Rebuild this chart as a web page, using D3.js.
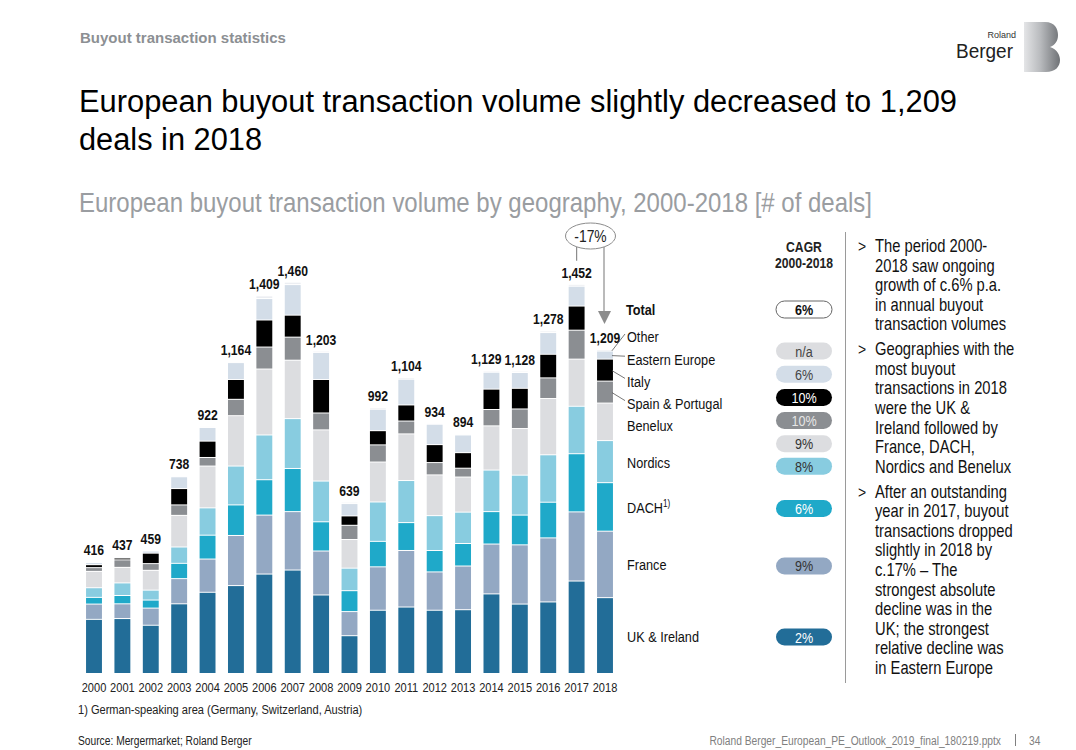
<!DOCTYPE html>
<html lang="en">
<head>
  <meta charset="UTF-8">
  <title>European buyout transaction volume</title>
  <script src="https://d3js.org/d3.v7.min.js"></script>
  <style>
    body { margin: 0; background: #fff; }
    svg text { font-family: "Liberation Sans", Arial, sans-serif; }
  </style>
</head>
<body>
  <div id="chart"></div>
  <script>
    // deals per year and region
    const years = [2000, 2001, 2002, 2003, 2004, 2005, 2006, 2007, 2008, 2009, 2010, 2011, 2012, 2013, 2014, 2015, 2016, 2017, 2018]
    const totals = [416, 437, 459, 738, 922, 1164, 1409, 1460, 1203, 639, 992, 1104, 934, 894, 1129, 1128, 1278, 1452, 1209]

    const ukIreland = [202, 205, 180, 260, 303, 328, 371, 386, 293, 141, 236, 248, 236, 238, 297, 259, 267, 345, 283]
    const france = [57, 55, 64, 94, 124, 187, 220, 218, 164, 90, 162, 211, 143, 163, 186, 221, 239, 258, 248]
    const dach = [25, 31, 30, 57, 89, 114, 132, 161, 109, 78, 95, 104, 80, 84, 121, 111, 133, 217, 181]
    const nordics = [36, 47, 37, 61, 102, 145, 167, 186, 152, 84, 147, 157, 130, 117, 155, 149, 177, 177, 157]
    const benelux = [61, 58, 74, 118, 156, 188, 246, 218, 191, 107, 149, 174, 152, 131, 165, 174, 210, 176, 140]
    const spainPortugal = [14, 28, 25, 39, 32, 61, 82, 86, 63, 53, 64, 48, 46, 33, 61, 73, 77, 108, 82]
    const italy = [11, 7, 39, 61, 61, 74, 101, 82, 125, 35, 53, 60, 67, 58, 76, 77, 88, 90, 82]
    const easternEurope = [8, 4, 8, 44, 51, 63, 80, 114, 101, 46, 80, 96, 76, 66, 63, 59, 81, 74, 30]
    const other = [2, 2, 2, 4, 4, 4, 10, 9, 5, 5, 6, 6, 4, 4, 5, 5, 6, 7, 6]

    const regions = ['UK & Ireland', 'France', 'DACH', 'Nordics', 'Benelux', 'Spain & Portugal', 'Italy', 'Eastern Europe', 'Other']
    const cagr = ['2%', '9%', '6%', '8%', '9%', '10%', '10%', '6%', 'n/a']
    const totalCagr = '6%'

    const bullets = [
      ['The period 2000-', '2018 saw ongoing', 'growth of c.6% p.a.', 'in annual buyout', 'transaction volumes'],
      ['Geographies with the', 'most buyout', 'transactions in 2018', 'were the UK &', 'Ireland followed by', 'France, DACH,', 'Nordics and Benelux'],
      ['After an outstanding', 'year in 2017, buyout', 'transactions dropped', 'slightly in 2018 by', 'c.17% \u2013 The', 'strongest absolute', 'decline was in the', 'UK; the strongest', 'relative decline was', 'in Eastern Europe']
    ]

    const series = [ukIreland, france, dach, nordics, benelux, spainPortugal, italy, easternEurope, other]
    const colors = ['#226d98', '#93a8c3', '#1fa9c9', '#88cce0', '#dcdde0', '#8b8e92', '#000000', '#d3dde8', '#eceef2']
    const pillText = ['#ffffff', '#333333', '#ffffff', '#333333', '#333333', '#e6e6e6', '#ffffff', '#444444', '#444444']

    const table = years.map((yr, i) => {
      const row = {year: yr}
      regions.forEach((r, k) => { row[r] = series[k][i] })
      return row
    })

    // no condensed face installed: squeeze text horizontally round its anchor
    function narrow (sel, s) {
      sel.attr('transform', function () {
        const x0 = +this.getAttribute('x') || 0
        return `translate(${x0 * (1 - s)},0) scale(${s},1)`
      })
      return sel
    }

    const svg = d3.select('#chart').append('svg')
      .attr('width', 1076)
      .attr('height', 750)

    // header
    svg.append('text').attr('x', 80).attr('y', 43)
      .style('font-size', '15px').style('font-weight', 'bold').attr('fill', '#8c8f93')
      .text('Buyout transaction statistics')
    svg.append('text').attr('x', 79).attr('y', 112)
      .attr('textLength', 878).attr('lengthAdjust', 'spacingAndGlyphs')
      .style('font-size', '31px').attr('fill', '#000')
      .text('European buyout transaction volume slightly decreased to 1,209')
    svg.append('text').attr('x', 79).attr('y', 150)
      .attr('textLength', 183).attr('lengthAdjust', 'spacingAndGlyphs')
      .style('font-size', '31px').attr('fill', '#000')
      .text('deals in 2018')
    svg.append('text').attr('x', 79).attr('y', 212)
      .attr('textLength', 793).attr('lengthAdjust', 'spacingAndGlyphs')
      .style('font-size', '27.5px').attr('fill', '#9a9da1')
      .text('European buyout transaction volume by geography, 2000-2018 [# of deals]')

    // logo
    const grad = svg.append('defs').append('linearGradient').attr('id', 'rb')
      .attr('x1', '0%').attr('x2', '100%')
    grad.append('stop').attr('offset', '0%').attr('stop-color', '#e4e5e7')
    grad.append('stop').attr('offset', '45%').attr('stop-color', '#b9bbbe')
    grad.append('stop').attr('offset', '100%').attr('stop-color', '#6f7276')
    svg.append('path')
      .attr('d', 'M1024,22 H1045 C1055,22 1058,29 1058,35 C1058,41 1055,45 1050,47 C1057,49 1060,55 1060,60 C1060,67 1055,72 1046,72 H1024 Z')
      .attr('fill', 'url(#rb)')
    svg.append('text').attr('x', 1016).attr('y', 37.5).attr('text-anchor', 'end')
      .style('font-size', '9px').attr('fill', '#333').text('Roland')
    svg.append('text').attr('x', 956).attr('y', 58)
      .attr('textLength', 57).attr('lengthAdjust', 'spacingAndGlyphs')
      .style('font-size', '20px').attr('fill', '#222').text('Berger')

    // scales
    const x = d3.scaleBand()
      .domain(years)
      .range([79.8, 619.2])
      .paddingInner(0.44)
      .paddingOuter(0.22)

    const y = d3.scaleLinear()
      .domain([0, 1460])
      .range([674, 282.7])

    const stacked = d3.stack().keys(regions)(table)

    svg.append('g').selectAll('g')
      .data(stacked)
      .enter()
      .append('g')
        .attr('fill', (d, k) => colors[k])
      .selectAll('rect')
      .data(d => d)
      .enter()
      .append('rect')
        .attr('x', d => x(d.data.year))
        .attr('y', d => y(d[1]))
        .attr('width', x.bandwidth())
        .attr('height', d => Math.max(0, y(d[0]) - y(d[1]) - 1))

    // totals on top
    const totalScale = 0.84
    const totalLabels = svg.append('g').selectAll('text')
      .data(years)
      .enter()
      .append('text')
        .attr('x', d => x(d) + x.bandwidth() / 2)
        .attr('y', (d, i) => y(totals[i]) - 7)
        .attr('text-anchor', 'middle')
        .style('font-size', '14.5px').style('font-weight', 'bold').attr('fill', '#111')
        .text((d, i) => d3.format(',')(totals[i]))
    // nudge a label left when it runs into its right-hand neighbour at the same height
    const nodes = totalLabels.nodes()
    for (let i = nodes.length - 2; i >= 0; i--) {
      const a = nodes[i], b = nodes[i + 1]
      const wa = a.getComputedTextLength() * totalScale, wb = b.getComputedTextLength() * totalScale
      const xa = +a.getAttribute('x'), xb = +b.getAttribute('x')
      const gap = (xb - wb / 2) - (xa + wa / 2)
      if (Math.abs(+a.getAttribute('y') - +b.getAttribute('y')) < 12 && gap < 3) {
        a.setAttribute('x', xa - (3 - gap))
      }
    }
    totalLabels.call(narrow, totalScale)

    // year axis
    const xAxis = svg.append('g')
      .attr('transform', 'translate(0,680)')
      .call(d3.axisBottom(x).tickSize(0).tickPadding(0))
    xAxis.select('.domain').remove()
    xAxis.selectAll('text')
      .attr('dy', '0.9em')
      .style('font-size', '13px').attr('fill', '#222')
      .call(narrow, 0.85)

    // -17% annotation
    const i17 = years.indexOf(2017), i18 = years.indexOf(2018)
    const cx17 = x(2017) + x.bandwidth() / 2
    const cx18 = x(2018) + x.bandwidth() / 2
    svg.append('line')
      .attr('x1', cx17).attr('x2', cx17)
      .attr('y1', 240).attr('y2', y(totals[i17]) - 24)
      .attr('stroke', '#8c8c8c').attr('stroke-width', 1.2)
    svg.append('line')
      .attr('x1', cx18 - 1).attr('x2', cx18 - 1)
      .attr('y1', 240).attr('y2', y(totals[i18]) - 38)
      .attr('stroke', '#8c8c8c').attr('stroke-width', 1.2)
    const tipY = y(totals[i18]) - 26
    svg.append('path')
      .attr('d', `M${cx18 - 7},${tipY - 13} L${cx18 + 6},${tipY - 13} L${cx18 - 0.5},${tipY} Z`)
      .attr('fill', '#8c8c8c')
    svg.append('ellipse')
      .attr('cx', 590.5).attr('cy', 236).attr('rx', 25).attr('ry', 13)
      .attr('fill', '#fff').attr('stroke', '#8c8c8c').attr('stroke-width', 1)
    svg.append('text').attr('x', 590.5).attr('y', 242).attr('text-anchor', 'middle')
      .style('font-size', '16.5px').attr('fill', '#222').text('-17%')
      .call(narrow, 0.84)

    // legend next to the 2018 bar
    const last = stacked.map(s => s[i18])
    const labelY = regions.map((r, k) => k >= 4 ? 337 + (8 - k) * 22.2 : (y(last[k][0]) + y(last[k][1])) / 2)
    const pillY = regions.map((r, k) => k >= 4 ? 351 + (8 - k) * 23.2 : labelY[k] + (k === 3 ? 4 : 1))

    svg.append('g').selectAll('text')
      .data(regions)
      .enter()
      .append('text')
        .attr('x', 627)
        .attr('y', (d, k) => labelY[k] + 5.5)
        .style('font-size', '15.5px').attr('fill', '#111')
        .text(d => d)
        .call(narrow, 0.82)
        .filter(d => d === 'DACH')
        .append('tspan')
          .attr('dy', -5.5).style('font-size', '10px').text('1)')

    // leader lines for the thin top segments
    svg.append('g').selectAll('line')
      .data(regions.slice(5))
      .enter()
      .append('line')
        .attr('x1', x(2018) + x.bandwidth() - 1)
        .attr('y1', (d, j) => (y(last[j + 5][0]) + y(last[j + 5][1])) / 2)
        .attr('x2', 625)
        .attr('y2', (d, j) => labelY[j + 5] - 3)
        .attr('stroke', '#555').attr('stroke-width', 0.8)

    svg.append('text').attr('x', 626).attr('y', 315)
      .style('font-size', '15.5px').style('font-weight', 'bold').attr('fill', '#111').text('Total')
      .call(narrow, 0.82)

    // CAGR column
    svg.append('text').attr('x', 804).attr('y', 252).attr('text-anchor', 'middle')
      .style('font-size', '14.5px').style('font-weight', 'bold').attr('fill', '#222').text('CAGR')
      .call(narrow, 0.84)
    svg.append('text').attr('x', 804).attr('y', 268).attr('text-anchor', 'middle')
      .style('font-size', '14.5px').style('font-weight', 'bold').attr('fill', '#222').text('2000-2018')
      .call(narrow, 0.84)

    svg.append('rect').attr('x', 776).attr('y', 301).attr('width', 56).attr('height', 17)
      .attr('rx', 8.5).attr('fill', '#fff').attr('stroke', '#666').attr('stroke-width', 1)
    svg.append('text').attr('x', 804).attr('y', 315).attr('text-anchor', 'middle')
      .style('font-size', '15px').style('font-weight', 'bold').attr('fill', '#111').text(totalCagr)
      .call(narrow, 0.84)

    const pills = svg.append('g').selectAll('g')
      .data(regions)
      .enter()
      .append('g')
        .attr('transform', (d, k) => `translate(804,${pillY[k]})`)
    pills.append('rect')
      .attr('x', -28).attr('y', -8.5).attr('width', 56).attr('height', 17).attr('rx', 8.5)
      .attr('fill', (d, k) => k === 8 ? '#dcdde0' : colors[k])
    pills.append('text')
      .attr('y', 5.5).attr('text-anchor', 'middle')
      .style('font-size', '15px').attr('fill', (d, k) => pillText[k])
      .text((d, k) => cagr[k])
      .call(narrow, 0.84)

    // divider
    svg.append('line').attr('x1', 845.5).attr('x2', 845.5).attr('y1', 232).attr('y2', 683)
      .attr('stroke', '#9a9a9a').attr('stroke-width', 1)

    // bullet text
    let ty = 252
    bullets.forEach(lines => {
      svg.append('text').attr('x', 858).attr('y', ty)
        .style('font-size', '17px').attr('fill', '#111').text('>')
        .call(narrow, 0.82)
      lines.forEach(line => {
        svg.append('text').attr('x', 875).attr('y', ty)
          .style('font-size', '18px').attr('fill', '#111').text(line)
          .call(narrow, 0.82)
        ty += 19.6
      })
      ty += 5.2
    })

    // footer
    svg.append('text').attr('x', 78).attr('y', 714)
      .style('font-size', '13.5px').attr('fill', '#222')
      .text('1) German-speaking area (Germany, Switzerland, Austria)')
      .call(narrow, 0.82)
    svg.append('text').attr('x', 78).attr('y', 745)
      .style('font-size', '12.5px').attr('fill', '#222')
      .text('Source: Mergermarket; Roland Berger')
      .call(narrow, 0.82)
    svg.append('text').attr('x', 1001).attr('y', 745).attr('text-anchor', 'end')
      .style('font-size', '12.5px').attr('fill', '#808080')
      .text('Roland Berger_European_PE_Outlook_2019_final_180219.pptx')
      .call(narrow, 0.82)
    svg.append('line').attr('x1', 1015.5).attr('x2', 1015.5).attr('y1', 734).attr('y2', 746)
      .attr('stroke', '#808080').attr('stroke-width', 1)
    svg.append('text').attr('x', 1029).attr('y', 745)
      .style('font-size', '12.5px').attr('fill', '#808080').text('34')
      .call(narrow, 0.82)
  </script>
</body>
</html>
